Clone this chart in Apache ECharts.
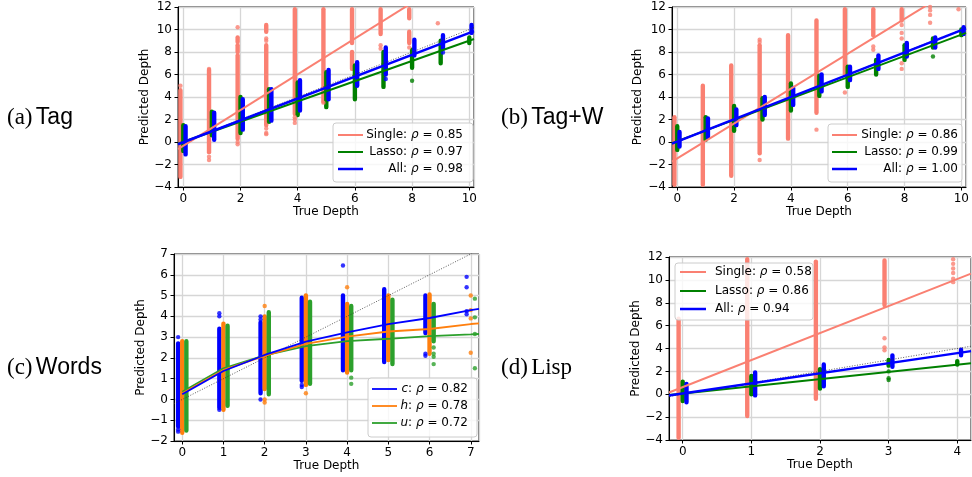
<!DOCTYPE html>
<html><head><meta charset="utf-8">
<script src="https://cdn.jsdelivr.net/npm/echarts@6/dist/echarts.min.js"></script>
<style>html,body{margin:0;padding:0;background:#fff}#c{width:972px;height:477px}</style>
</head><body><div id="c"></div>
<script>
// ===================== DATA =====================
// Series names / legend text
const TAG_NAMES = ['Single', 'Lasso', 'All'];
const A_RHO = ['0.85', '0.97', '0.98'];
const B_RHO = ['0.86', '0.99', '1.00'];
const D_RHO = ['0.58', '0.86', '0.94'];
const C_NAMES = ['c', 'h', 'u'];
const C_RHO = ['0.82', '0.78', '0.72'];
const PANEL_LABELS = [['(a)', 'Tag'], ['(b)', 'Tag+W'], ['(c)', 'Words'], ['(d)', 'Lisp']];
const X_TITLE = 'True Depth';
const Y_TITLE = 'Predicted Depth';

// horizontal offsets of each method's column from the true depth
const AB_OFFSETS = [-0.1, 0.0, 0.08];
const C_OFFSETS = [-0.1, 0.0, 0.1];
const D_OFFSETS = [-0.06, 0.0, 0.055];

// Dense columns: [trueDepth, lowest predicted, highest predicted]; sparse points: [trueDepth, predicted]
// ---- (a) Tag
const A_SINGLE_RANGES = [[0,-3.1,4.6],[1,-0.9,6.4],[2,0.3,7.7],[2,8.0,8.6],[2,8.9,9.3],[3,1.5,8.6],[3,9.8,10.4],[4,2.5,12.2],[5,3.6,12.2],[6,6.5,8.0],[6,8.8,12.2],[7,9.6,12.2],[8,8.8,9.8],[8,11.0,12.2]];
const A_SINGLE_POINTS = [[0,5.0],[1,6.5],[1,-1.6],[1,-1.3],[2,10.2],[2,-0.2],[2,0.0],[3,9.2],[3,9.0],[3,1.2],[3,0.8],[3,0.7],[4,2.2],[4,2.0],[4,1.7],[5,3.5],[7,8.6],[7,8.3],[8,8.4],[9,10.55]];
const A_LASSO_RANGES = [[0,-0.8,1.5],[1,0.6,2.7],[2,0.8,4.0],[3,1.8,4.7],[4,2.4,5.3],[5,3.1,6.2],[6,3.8,6.8],[7,4.9,8.0],[8,6.6,8.2],[9,7.0,9.0],[10,8.8,9.3]];
const A_LASSO_POINTS = [[8,5.45]];
const A_ALL_RANGES = [[0,-1.1,1.4],[1,0.2,2.6],[2,1.1,3.8],[3,1.9,4.7],[4,2.8,5.5],[5,3.8,6.4],[6,5.0,7.1],[7,6.0,8.4],[8,7.7,9.1],[9,8.3,9.5],[10,9.7,10.4]];
const A_ALL_POINTS = [[7,5.6],[9,7.95]];
const A_SINGLE_FIT = [[-0.185,-0.64],[10.165,15.82]];
const A_LASSO_FIT = [[-0.185,-0.15],[10.165,9.15]];
const A_ALL_FIT = [[-0.185,-0.2],[10.165,9.85]];
const A_IDENTITY = [[-4,-4],[12,12]];

// ---- (b) Tag+W
const B_SINGLE_RANGES = [[0,-4.2,2.2],[1,-4.2,5.0],[2,-3.0,6.8],[3,-1.0,8.6],[4,0.3,9.5],[5,2.6,10.8],[6,6.0,12.2],[7,9.5,11.8],[8,10.8,12.2]];
const B_SINGLE_POINTS = [[3,9.1],[3,8.9],[3,-1.6],[5,1.1],[6,4.4],[7,8.5],[7,8.2],[8,10.4],[8,9.7],[8,9.2],[8,7.0],[8,6.5],[9,12.0],[9,11.7],[9,11.3],[9,10.6],[10,11.8]];
const B_LASSO_RANGES = [[0,-0.7,1.4],[1,0.2,2.2],[2,1.0,3.2],[3,2.0,3.9],[4,2.8,5.2],[5,4.1,5.9],[6,4.9,6.7],[7,6.0,7.3],[8,7.3,8.6],[9,8.4,9.2],[10,9.5,10.0]];
const B_LASSO_POINTS = [[9,7.6]];
const B_ALL_RANGES = [[0,-0.4,0.9],[1,0.4,2.1],[2,1.5,2.9],[3,2.4,4.0],[4,3.3,4.8],[5,4.5,6.0],[6,5.5,6.7],[7,6.5,7.7],[8,7.6,8.8],[9,8.4,9.3],[10,9.6,10.2]];
const B_ALL_POINTS = [];
const B_SINGLE_FIT = [[-0.185,-1.74],[10.165,14.3]];
const B_LASSO_FIT = [[-0.185,-0.1],[10.165,9.7]];
const B_ALL_FIT = [[-0.185,-0.15],[10.165,10.1]];
const B_IDENTITY = [[-4,-4],[12,12]];

// ---- (c) Words
const C_C_RANGES = [[0,-1.3,2.7],[1,-0.4,3.4],[2,0.3,3.7],[3,0.9,4.9],[4,1.4,5.0],[5,1.8,5.3],[6,3.2,5.0]];
const C_C_POINTS = [[0,3.0],[0,-1.45],[0,-1.55],[1,4.15],[1,4.0],[1,-0.5],[2,4.0],[2,3.85],[2,0.0],[3,0.6],[3,0.7],[4,6.45],[6,2.2],[6,2.1],[7,5.9],[7,5.4],[7,4.25],[7,4.1]];
const C_H_RANGES = [[0,-1.6,2.8],[1,-0.5,3.65],[2,0.5,4.0],[3,0.7,5.0],[4,1.3,4.6],[5,1.9,5.0],[6,2.2,5.05]];
const C_H_POINTS = [[2,4.5],[2,0.0],[2,-0.15],[3,0.3],[4,5.4],[7,5.0],[7,4.3],[7,3.9],[7,2.25]];
const C_U_RANGES = [[0,-1.5,2.8],[1,-0.3,3.55],[2,0.25,4.2],[3,0.75,4.7],[4,1.4,4.5],[5,1.7,4.8],[6,2.8,4.6]];
const C_U_POINTS = [[4,1.05],[4,0.75],[6,2.5],[6,2.2],[6,2.05],[6,1.7],[7,4.85],[7,3.95],[7,3.15],[7,1.5]];
const C_C_LINE = [[0,0.25],[1,1.37],[2,2.14],[3,2.78],[4,3.23],[5,3.63],[6,3.92],[7,4.3],[7.2,4.36]];
const C_H_LINE = [[0,0.3],[1,1.42],[2,2.1],[3,2.67],[4,3.02],[5,3.27],[6,3.39],[7,3.63],[7.2,3.66]];
const C_U_LINE = [[0,0.37],[1,1.5],[2,2.12],[3,2.57],[4,2.81],[5,2.92],[6,3.05],[7,3.13],[7.2,3.15]];
const C_IDENTITY = [[-2,-2],[8,8]];

// ---- (d) Lisp
const D_SINGLE_RANGES = [[0,-4.2,6.6],[1,-1.9,12.2],[2,-0.4,11.6],[3,7.8,11.7]];
const D_SINGLE_POINTS = [[3,4.9],[3,4.1],[3,3.85],[4,11.8],[4,11.4],[4,11.0],[4,10.6],[4,10.1],[4,9.8]];
const D_LASSO_RANGES = [[0,-0.6,1.1],[1,0.0,1.6],[2,0.5,2.2],[3,2.5,3.0],[4,2.6,2.9]];
const D_LASSO_POINTS = [[3,2.0],[3,1.4],[3,1.25]];
const D_ALL_RANGES = [[0,-0.7,0.9],[1,-0.1,1.9],[2,0.7,2.6],[3,2.4,3.4],[4,3.4,3.9]];
const D_ALL_POINTS = [];
const D_SINGLE_FIT = [[-0.2,0.15],[4.2,10.55]];
const D_LASSO_FIT = [[-0.2,-0.07],[4.2,2.7]];
const D_ALL_FIT = [[-0.2,-0.1],[4.2,3.77]];
const D_IDENTITY = [[-4,-4],[12,12]];

// ===================== STYLE / LAYOUT =====================
const FONT = 'DejaVu Sans';
const SALMON = '#fa8072', GREEN = '#008000', BLUE = '#0000ff';
const C_COLORS = ['#0000ff', '#ff7f0e', '#2ca02c'];
const AB_COLORS = [SALMON, GREEN, BLUE];
const STRIP_W = 4.4;
const GRID_COLOR = '#d6d6d6';

const grids = [
  {left: 178, top: 7, width: 296, height: 180},
  {left: 672, top: 7, width: 296, height: 180},
  {left: 174, top: 254, width: 305, height: 187},
  {left: 669, top: 257, width: 302, height: 183}
];
const xRanges = [[-0.185, 10.165, 5], [-0.185, 10.165, 5], [-0.2, 7.2, 7], [-0.2, 4.2, 4]];
const yRanges = [[-4, 12, 2], [-4, 12, 2], [-2, 7, 1], [-4, 12, 2]];
const yNameGaps = [26, 28, 25, 26];

const fmt = v => (v < 0 ? '\u2212' + Math.abs(v) : String(v));
const txt = {fontFamily: FONT, fontSize: 12, color: '#000'};

const xAxes = xRanges.map((r, i) => ({
  type: 'value', gridIndex: i, min: r[0], max: r[1], splitNumber: r[2],
  name: X_TITLE, nameLocation: 'middle', nameGap: 19, nameTextStyle: txt,
  axisLine: {show: true, onZero: false, lineStyle: {color: '#000', width: 1}},
  axisTick: {show: true, inside: false, length: 3.5, lineStyle: {color: '#000', width: 1}},
  axisLabel: Object.assign({showMinLabel: false, showMaxLabel: false, margin: 6, formatter: fmt}, txt),
  splitLine: {show: true, lineStyle: {color: GRID_COLOR, width: 1.3}}
}));
const yAxes = yRanges.map((r, i) => ({
  type: 'value', gridIndex: i, min: r[0], max: r[1], interval: r[2],
  name: Y_TITLE, nameLocation: 'middle', nameGap: yNameGaps[i], nameRotate: 90, nameTextStyle: txt,
  axisLine: {show: true, onZero: false, lineStyle: {color: '#000', width: 1}},
  axisTick: {show: true, inside: false, length: 3.5, lineStyle: {color: '#000', width: 1}},
  axisLabel: Object.assign({margin: 6, formatter: fmt}, txt),
  splitLine: {show: true, lineStyle: {color: GRID_COLOR, width: 1.3}}
}));

function strips(gi, ranges, offset, color) {
  return {
    type: 'custom', xAxisIndex: gi, yAxisIndex: gi, z: 2, silent: true,
    data: ranges.map(r => [r[0] + offset, r[1], r[2]]),
    encode: {x: 0, y: [1, 2]},
    renderItem: function (params, api) {
      const x = api.value(0), lo = api.value(1), hi = api.value(2);
      const top = api.coord([x, hi]), bot = api.coord([x, lo]);
      const w = STRIP_W;
      const rect = {x: top[0] - w / 2, y: top[1] - w / 2, width: w, height: bot[1] - top[1] + w};
      const cs = params.coordSys;
      const c = echarts.graphic.clipRectByRect(rect, {x: cs.x, y: cs.y, width: cs.width, height: cs.height});
      if (!c) return null;
      return {type: 'rect', shape: {x: c.x, y: c.y, width: c.width, height: c.height, r: w / 2}, style: {fill: color}};
    }
  };
}
function dots(gi, pts, offset, color) {
  return {
    type: 'scatter', xAxisIndex: gi, yAxisIndex: gi, z: 2, silent: true, clip: true,
    symbol: 'circle', symbolSize: STRIP_W, itemStyle: {color: color},
    data: pts.map(p => [p[0] + offset, p[1]])
  };
}
function line(gi, data, color, width, type) {
  return {
    type: 'line', xAxisIndex: gi, yAxisIndex: gi, z: 3, silent: true, clip: true,
    showSymbol: false, symbol: 'none', data: data,
    lineStyle: {color: color, width: width, type: type || 'solid'}
  };
}

const series = [];
function panelTag(gi, ranges, points, fits, ident, offsets) {
  for (let k = 0; k < 3; k++) {
    series.push(strips(gi, ranges[k], offsets[k], AB_COLORS[k]));
    series.push(dots(gi, points[k], offsets[k], AB_COLORS[k]));
  }
  series.push(line(gi, ident, '#333', 0.8, [1, 1.6]));
  series.push(line(gi, fits[0], SALMON, 2));
  series.push(line(gi, fits[1], GREEN, 2));
  series.push(line(gi, fits[2], BLUE, 2.5));
}
panelTag(0, [A_SINGLE_RANGES, A_LASSO_RANGES, A_ALL_RANGES], [A_SINGLE_POINTS, A_LASSO_POINTS, A_ALL_POINTS],
  [A_SINGLE_FIT, A_LASSO_FIT, A_ALL_FIT], A_IDENTITY, AB_OFFSETS);
panelTag(1, [B_SINGLE_RANGES, B_LASSO_RANGES, B_ALL_RANGES], [B_SINGLE_POINTS, B_LASSO_POINTS, B_ALL_POINTS],
  [B_SINGLE_FIT, B_LASSO_FIT, B_ALL_FIT], B_IDENTITY, AB_OFFSETS);
panelTag(3, [D_SINGLE_RANGES, D_LASSO_RANGES, D_ALL_RANGES], [D_SINGLE_POINTS, D_LASSO_POINTS, D_ALL_POINTS],
  [D_SINGLE_FIT, D_LASSO_FIT, D_ALL_FIT], D_IDENTITY, D_OFFSETS);
// (c)
[[C_C_RANGES, C_C_POINTS], [C_H_RANGES, C_H_POINTS], [C_U_RANGES, C_U_POINTS]].forEach((rp, k) => {
  series.push(strips(2, rp[0], C_OFFSETS[k], C_COLORS[k]));
  series.push(dots(2, rp[1], C_OFFSETS[k], C_COLORS[k]));
});
series.push(line(2, C_IDENTITY, '#333', 0.8, [1, 1.6]));
series.push(line(2, C_U_LINE, C_COLORS[2], 1.8));
series.push(line(2, C_H_LINE, C_COLORS[1], 1.8));
series.push(line(2, C_C_LINE, C_COLORS[0], 1.8));

// ===================== GRAPHIC (legends, panel labels) =====================
const RICH = {
  n: {fontFamily: FONT, fontSize: 12, fill: '#000'},
  i: {fontFamily: FONT, fontSize: 12, fontStyle: 'italic', fill: '#000'}
};
const ZL = 200;
function legend(box, lineX, textX, align, rowsY, texts, colors, widths) {
  const els = [{type: 'rect', z: ZL, shape: {x: box[0], y: box[1], width: box[2], height: box[3], r: 3},
    style: {fill: 'rgba(255,255,255,0.8)', stroke: '#cccccc', lineWidth: 1}}];
  rowsY.forEach((y, k) => {
    els.push({type: 'line', z: ZL + 1, shape: {x1: lineX[0], y1: y, x2: lineX[1], y2: y}, style: {stroke: colors[k], lineWidth: widths[k]}});
    els.push({type: 'text', z: ZL + 1, x: textX, y: y, style: {text: texts[k], rich: RICH, align: align, verticalAlign: 'middle'}});
  });
  return els;
}
const tagTexts = rho => TAG_NAMES.map((n, k) => `{n|${n}: }{i|ρ}{n| = ${rho[k]}}`);
const cTexts = C_NAMES.map((n, k) => `{i|${n}}{n|: }{i|ρ}{n| = ${C_RHO[k]}}`);
const W3 = [2, 2, 2.5];

const graphics = [].concat(
  legend([333, 123, 140, 59], [338, 363], 463, 'right', [135, 152, 169], tagTexts(A_RHO), AB_COLORS, W3),
  legend([828, 124, 134, 58], [832, 857], 958, 'right', [135, 152, 169], tagTexts(B_RHO), AB_COLORS, W3),
  legend([368, 378, 109, 59], [372, 397], 468, 'right', [389, 406, 423], cTexts, C_COLORS, [1.8, 1.8, 1.8]),
  legend([675, 263, 138, 57], [680, 706], 715, 'left', [272, 291, 309], tagTexts(D_RHO), AB_COLORS, W3)
);
const labelPos = [[7, 118], [501, 118], [7, 368], [501, 368]];
PANEL_LABELS.forEach((lab, k) => {
  const serifAll = (k === 3);
  graphics.push({
    type: 'text', z: ZL, x: labelPos[k][0], y: labelPos[k][1],
    style: {
      text: `{s|${lab[0]}} {${serifAll ? 's' : 't'}|${lab[1]}}`,
      verticalAlign: 'middle',
      rich: {
        s: {fontFamily: 'Liberation Serif', fontSize: 23, fill: '#000'},
        t: {fontFamily: 'Liberation Sans', fontSize: 23, fill: '#000'}
      }
    }
  });
});

const chart = echarts.init(document.getElementById('c'), null, {renderer: 'canvas'});
chart.setOption({
  animation: false,
  backgroundColor: '#fff',
  grid: grids.map(g => Object.assign({show: true, borderColor: '#000', borderWidth: 1, backgroundColor: 'transparent', containLabel: false}, g)),
  xAxis: xAxes,
  yAxis: yAxes,
  series: series,
  graphic: {elements: graphics}
});
</script></body></html>
